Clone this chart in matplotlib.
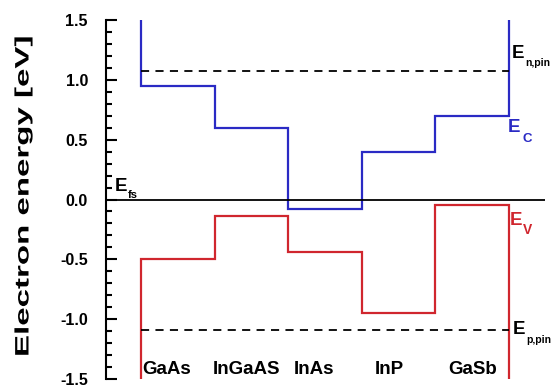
# Band diagram of a GaAs / InGaAS / InAs / InP / GaSb stack

import numpy as np
import matplotlib
matplotlib.use('Agg')
import matplotlib.pyplot as plt
import matplotlib.patheffects as pe
from matplotlib.ticker import MultipleLocator, FormatStrFormatter
from matplotlib.transforms import Affine2D

plt.rcParams['font.family'] = ['Liberation Sans', 'DejaVu Sans']
plt.rcParams['axes.unicode_minus'] = False

# Data
layers = ['GaAs', 'InGaAS', 'InAs', 'InP', 'GaSb']
edges = [0, 1, 2, 3, 4, 5]               # layer boundaries
Ec = [0.95, 0.60, -0.08, 0.40, 0.70]     # conduction band edge [eV]
Ev = [-0.50, -0.14, -0.44, -0.95, -0.05] # valence band edge [eV]
En_pin = 1.07
Ep_pin = -1.09
y_top, y_bottom = 1.5, -1.5


# stretch a text along its own baseline (the y label is drawn wide)
class Stretch(pe.AbstractPathEffect):
    def __init__(self, sx):
        super().__init__()
        self.sx = sx

    def draw_path(self, renderer, gc, tpath, affine, rgbFace=None):
        renderer.draw_path(gc, tpath, Affine2D().scale(self.sx, 1) + affine, rgbFace)


fig = plt.figure(figsize=(5.55, 3.87), dpi=100)
ax = fig.add_axes([106 / 555, 8 / 387, 439 / 555, 359 / 387])

blue = '#2a2ac4'
red = '#d0262e'

# conduction band: walls up to the top at both ends
xs = np.repeat(edges, 2)
yc = np.concatenate([[y_top], np.repeat(Ec, 2), [y_top]])
ax.plot(xs, yc, color=blue, lw=1.6, solid_joinstyle='miter')

# valence band: walls down to the bottom at both ends
yv = np.concatenate([[y_bottom], np.repeat(Ev, 2), [y_bottom]])
ax.plot(xs, yv, color=red, lw=1.6, solid_joinstyle='miter')

# quasi Fermi levels
ax.plot([edges[0], edges[-1]], [En_pin, En_pin], color='black', lw=1.3, ls=(0, (4.5, 3.5)))
ax.plot([edges[0], edges[-1]], [Ep_pin, Ep_pin], color='black', lw=1.3, ls=(0, (4.5, 3.5)))

# Fermi level of the stack
ax.axhline(0, color='black', lw=1.3)


# "E" with a lowered subscript (offsets in points from the E baseline)
def energy_label(x, y, sub, color, subsize, dx, dy):
    ax.text(x, y, 'E', fontsize=13.5, fontweight='bold', color=color, va='baseline')
    ax.annotate(sub, (x, y), xytext=(dx, dy), textcoords='offset points',
                fontsize=subsize, fontweight='bold', color=color, va='baseline')


energy_label(-0.353, 0.067, 'fs', 'black', 8, 9.5, -4.5)
energy_label(5.04, 1.186, 'n,pin', 'black', 7.5, 9.5, -6)
energy_label(4.99, 0.56, 'C', blue, 9.5, 10, -7)
energy_label(5.01, -0.217, 'V', red, 10, 9.5, -6)
energy_label(5.05, -1.12, 'p,pin', 'black', 7.5, 9.5, -7)

# layer names
label_x = [0.01, 0.98, 2.07, 3.18, 4.17]
for name, lx in zip(layers, label_x):
    ax.text(lx, -1.455, name, fontsize=13.5, fontweight='bold', va='baseline')

# axes
ax.set_xlim(-0.476, 5.49)
ax.set_ylim(y_bottom, y_top)
ax.yaxis.set_major_locator(MultipleLocator(0.5))
ax.yaxis.set_minor_locator(MultipleLocator(0.1))
ax.yaxis.set_major_formatter(FormatStrFormatter('%.1f'))
ax.tick_params(axis='y', which='major', direction='in', length=8, width=1.5, pad=13, labelsize=11.5)
ax.tick_params(axis='y', which='minor', direction='in', length=4.5, width=1.5)
for lab in ax.get_yticklabels():
    lab.set_fontweight('bold')
ax.set_xticks([])
for side in ['top', 'right', 'bottom']:
    ax.spines[side].set_visible(False)
ax.spines['left'].set_linewidth(1.5)

fig.text(24 / 555, 30 / 387, 'Electron energy [eV]', rotation=90, ha='center', va='bottom',
         fontsize=14, fontweight='bold', path_effects=[Stretch(1.7)])

fig.savefig('out.png', dpi=100)
plt.close()
